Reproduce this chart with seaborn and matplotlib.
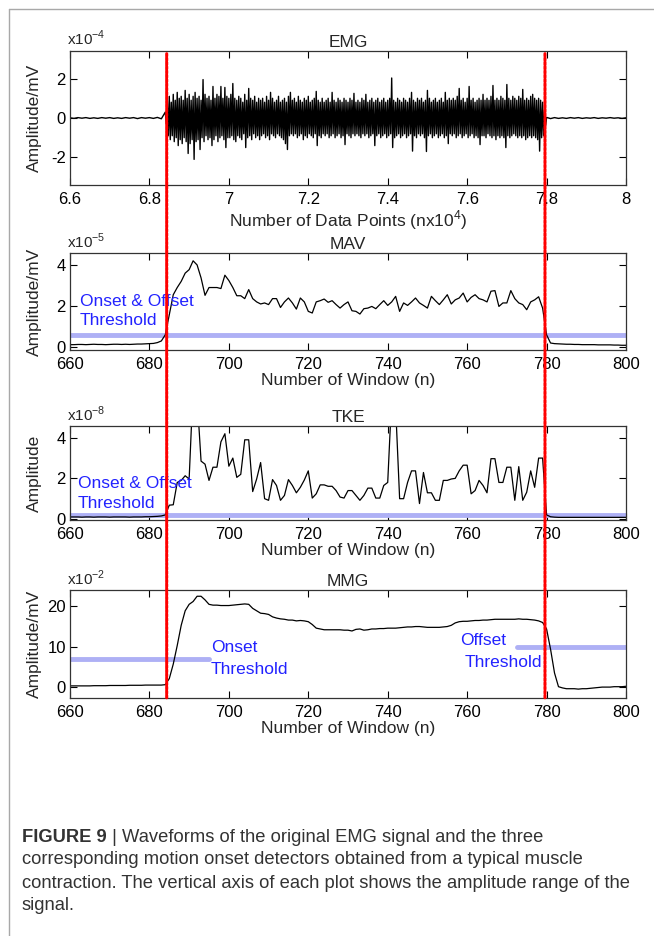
import numpy as np
import pandas as pd
import matplotlib
matplotlib.use("Agg")
import matplotlib.pyplot as plt
import seaborn as sns
from matplotlib.patches import ConnectionPatch
from matplotlib.lines import Line2D

sns.set_style("ticks")
plt.rcParams['font.family'] = ['Liberation Sans', 'DejaVu Sans']
plt.rcParams['mathtext.fontset'] = 'custom'
plt.rcParams['mathtext.rm'] = 'Liberation Sans'

# ---- data ----
windows = list(range(660, 801))

# MAV, x1e-5 mV
mav = [0.12, 0.12, 0.13, 0.13, 0.12, 0.13, 0.14, 0.13, 0.13, 0.12, 0.13, 0.14,
       0.14, 0.13, 0.14, 0.13, 0.14, 0.15, 0.15, 0.16, 0.17, 0.18, 0.22, 0.30,
       0.6, 1.58, 2.55, 2.9, 3.2, 3.6, 3.77, 4.2, 4.0, 3.37, 2.52, 2.9, 2.9, 2.9, 2.85, 3.5,
       3.24, 2.9, 2.5, 2.5, 2.36, 2.8, 2.36, 2.2, 2.1, 2.15, 2.07, 2.36, 2.36, 1.93, 2.2, 2.39, 2.15, 1.85, 2.39, 2.2,
       1.74, 1.66, 2.2, 2.26, 2.34, 2.18, 2.26, 2.07, 1.9, 2.07, 2.2, 1.77, 1.74, 1.61, 1.87, 1.9, 1.98, 1.87, 2.07, 2.26,
       2.03, 2.2, 2.47, 1.74, 2.15, 2.03, 2.2, 2.39, 2.15, 2.03, 1.9, 2.47, 2.26, 2.07, 2.3, 2.55, 2.1, 2.3, 2.39, 2.63,
       2.2, 2.42, 2.55, 2.36, 2.3, 2.2, 2.72, 2.75, 1.98, 2.15, 2.15, 2.75, 2.36, 2.15, 2.07, 1.82, 2.2, 2.3, 2.45, 1.9,
       0.6, 0.2, 0.17, 0.16, 0.15, 0.14, 0.14, 0.13, 0.13, 0.12, 0.12, 0.12, 0.12, 0.11, 0.11, 0.11, 0.11, 0.1, 0.1, 0.09, 0.09]

# TKE, x1e-8
tke = [0.1, 0.1, 0.1, 0.09, 0.1, 0.1, 0.09, 0.1, 0.1, 0.1, 0.09, 0.1,
       0.1, 0.1, 0.1, 0.09, 0.1, 0.1, 0.1, 0.11, 0.11, 0.12, 0.13, 0.15,
       0.2, 0.68, 0.7, 1.8, 1.9, 2.13, 1.97, 6.5, 6.0, 2.85, 2.7, 1.9, 2.55, 2.55, 3.8, 4.2,
       2.6, 3.0, 2.05, 2.2, 3.9, 3.9, 1.35, 1.97, 2.78, 1.0, 0.92, 1.94, 1.65, 0.92, 1.16, 1.94, 1.65, 1.29, 1.56, 1.92,
       2.37, 1.03, 1.24, 1.68, 1.68, 1.61, 1.61, 1.4, 1.08, 1.03, 1.4, 1.4, 1.16, 0.92, 1.16, 1.52, 1.52, 1.03, 1.03, 1.65,
       1.8, 6.0, 5.5, 1.0, 1.0, 1.8, 2.37, 2.37, 0.76, 2.29, 1.29, 1.29, 0.92, 0.92, 1.9, 1.9, 1.97, 2.0, 2.37, 2.65,
       2.65, 1.24, 1.4, 1.9, 1.65, 1.29, 2.97, 2.97, 1.8, 1.8, 2.55, 2.55, 0.92, 2.58, 0.92, 1.32, 2.37, 1.56, 3.0, 3.0,
       0.2, 0.11, 0.09, 0.08, 0.08, 0.08, 0.08, 0.08, 0.08, 0.08, 0.08, 0.08, 0.08, 0.08, 0.08, 0.08, 0.08, 0.08, 0.08, 0.08, 0.08]

# MMG, x1e-2 mV
mmg = [0.3, 0.3, 0.3, 0.3, 0.3, 0.3, 0.35, 0.35, 0.35, 0.35, 0.4, 0.4, 0.4,
       0.4, 0.4, 0.45, 0.45, 0.45, 0.45, 0.5, 0.5, 0.5, 0.5, 0.5, 0.6,
       2.1, 5.7, 10.3, 15.3, 18.9, 20.5, 21.2, 22.5, 22.5, 21.6, 20.5, 20.3, 20.3, 20.2, 20.2,
       20.2, 20.3, 20.4, 20.5, 20.6, 20.5, 19.5, 18.9, 18.3, 18.2, 18.0, 17.4, 17.1, 16.9, 16.8, 16.6, 16.6, 16.4, 16.5, 16.4,
       16.2, 15.5, 14.6, 14.4, 14.2, 14.2, 14.2, 14.2, 14.2, 14.1, 14.1, 13.9, 14.3, 14.4, 14.1, 14.2, 14.4, 14.4, 14.5, 14.5,
       14.6, 14.6, 14.6, 14.7, 14.8, 14.9, 14.9, 15.0, 15.0, 14.9, 14.8, 14.8, 14.8, 14.8, 14.9, 15.0, 15.3, 15.9, 16.2, 16.3,
       16.3, 16.4, 16.5, 16.5, 16.6, 16.6, 16.7, 16.8, 16.8, 16.8, 16.8, 16.8, 16.8, 16.9, 16.8, 16.8, 16.7, 16.6, 16.4, 16.0,
       14.4, 9.4, 3.5, 0.1, -0.2, -0.4, -0.4, -0.4, -0.5, -0.4, -0.4, -0.3, -0.2, -0.1, 0.0, 0.0, 0.0, 0.1, 0.1, 0.1, 0.2]

# raw EMG, x1e-4 mV: quiet stretches and upper/lower excursions per half window (684..779.5)
emg_quiet_pre = [0.01, -0.02, 0.02, -0.01, 0.02, -0.02, 0.01, -0.02, 0.02, -0.01, 0.02, -0.02,
                 0.01, -0.02, 0.02, -0.01, 0.02, -0.03, 0.02, -0.01, 0.02, -0.02, 0.03, -0.04]
emg_upper = [0.3, 0.9, 1.1, 0.8, 1.2, 0.9, 1.3, 1.0, 1.1, 0.9, 1.4, 1.0, 1.2, 0.9, 1.1, 1.3,
             1.0, 1.1, 0.9, 1.95, 1.2, 1.0, 1.1, 0.9, 1.6, 1.0, 1.2, 1.1, 1.6, 1.0, 1.55, 1.1,
             1.0, 1.2, 1.75, 1.0, 0.9, 1.1, 1.0, 0.8, 1.2, 0.9, 1.5, 1.0, 0.9, 1.1, 0.8, 1.0,
             0.9, 1.0, 0.8, 1.1, 0.9, 1.3, 1.0, 0.8, 0.9, 1.1, 0.8, 0.9, 1.0, 0.8, 1.1, 1.3,
             0.9, 1.0, 0.8, 1.1, 0.9, 0.8, 1.0, 0.9, 1.1, 0.8, 0.9, 1.0, 1.35, 0.9, 0.8, 1.0,
             0.8, 0.9, 1.0, 0.8, 1.3, 0.9, 0.8, 1.0, 0.9, 0.8, 1.0, 0.9, 0.8, 1.0, 0.9, 1.25,
             0.8, 0.9, 0.8, 1.0, 0.9, 1.2, 0.8, 0.9, 1.0, 0.8, 0.9, 1.0, 0.8, 0.9, 1.0, 0.8,
             0.9, 1.0, 2.03, 0.9, 0.8, 1.0, 0.9, 0.8, 1.0, 0.9, 0.8, 1.0, 1.3, 0.9, 0.8, 1.0,
             0.9, 1.0, 0.8, 0.9, 1.4, 1.0, 0.8, 0.9, 1.0, 0.8, 0.9, 1.0, 0.8, 1.3, 0.9, 1.0,
             0.9, 1.0, 0.9, 1.1, 1.5, 0.9, 1.0, 0.8, 1.0, 1.6, 0.9, 1.0, 0.8, 0.9, 1.0, 0.9,
             1.2, 0.9, 1.0, 0.9, 1.1, 1.65, 0.9, 1.0, 0.9, 1.1, 1.0, 0.9, 1.7, 1.0, 0.9, 1.1,
             1.0, 0.9, 1.1, 1.0, 1.45, 0.9, 1.0, 0.9, 1.1, 1.2, 1.0, 0.9, 1.0, 0.9, 0.8, 0.4]
emg_lower = [-0.3, -0.9, -1.1, -0.9, -1.2, -1.0, -1.4, -1.1, -1.3, -1.0, -1.2, -1.8, -1.3, -1.1, -2.1, -1.2,
             -1.1, -1.6, -1.0, -1.2, -0.9, -1.1, -1.0, -1.4, -1.1, -0.9, -1.2, -1.0, -0.9, -1.1, -1.5, -1.0,
             -1.0, -0.9, -1.1, -1.2, -0.9, -1.0, -1.1, -0.8, -1.5, -1.0, -0.9, -1.1, -0.8, -1.0, -0.9, -1.1,
             -0.9, -0.8, -1.0, -0.9, -1.1, -0.8, -0.9, -1.0, -0.8, -0.9, -1.0, -1.1, -1.3, -1.6, -0.9, -0.8,
             -0.9, -0.8, -1.0, -0.9, -0.8, -1.1, -0.9, -1.0, -0.8, -0.9, -1.0, -0.8, -1.4, -0.9, -1.0, -0.8,
             -0.9, -0.8, -1.0, -0.9, -0.8, -1.0, -0.9, -0.8, -1.0, -0.9, -1.35, -0.8, -0.9, -1.0, -0.8, -0.9,
             -0.8, -0.9, -1.0, -0.8, -0.9, -0.8, -1.0, -0.9, -0.8, -1.4, -0.9, -0.8, -1.0, -0.9, -0.8, -1.0,
             -0.9, -0.8, -1.5, -1.0, -0.9, -0.8, -1.0, -0.9, -0.8, -1.0, -0.9, -0.8, -1.68, -0.9, -1.0, -0.8,
             -0.9, -0.8, -1.0, -1.7, -0.9, -0.8, -1.0, -0.9, -0.8, -1.0, -0.9, -0.8, -1.0, -0.9, -1.3, -0.8,
             -0.9, -0.8, -1.0, -0.9, -0.8, -1.0, -0.9, -0.8, -1.0, -0.9, -0.8, -1.0, -0.9, -1.0, -1.35, -0.9,
             -0.9, -1.0, -0.8, -0.9, -1.0, -0.9, -1.1, -0.9, -1.0, -0.9, -1.0, -1.5, -0.9, -1.0, -0.9, -0.8,
             -0.9, -1.0, -0.9, -1.0, -0.9, -1.1, -1.0, -0.9, -1.0, -0.9, -1.0, -1.1, -1.68, -1.0, -0.9, -0.4]
emg_quiet_post = [0.03, -0.03, 0.02, -0.02, 0.01, -0.02, 0.02, -0.01, 0.02, -0.02, 0.01,
                  -0.01, 0.02, -0.02, 0.01, -0.01, 0.02, -0.01, 0.01, -0.02, 0.01]

detector_lines = [684.35, 779.6]          # window index of onset / offset
mav_threshold = 0.6
tke_threshold = 0.2
mmg_onset_threshold = (660, 695, 6.9)
mmg_offset_threshold = (772.5, 800, 10.0)

# ---- build EMG trace ----
active = np.empty(len(emg_upper) * 2)
active[0::2] = emg_upper
active[1::2] = emg_lower
emg_df = pd.DataFrame({
    'x': np.concatenate([6.60 + 0.01 * np.arange(len(emg_quiet_pre)),
                         6.84 + 0.0025 * np.arange(len(active)),
                         7.80 + 0.01 * np.arange(len(emg_quiet_post))]),
    'y': np.concatenate([emg_quiet_pre, active, emg_quiet_post]),
})
win_df = pd.DataFrame({'n': windows, 'mav': mav, 'tke': tke, 'mmg': mmg})

# ---- figure ----
W, H = 654, 936
fig = plt.figure(figsize=(W / 100, H / 100), dpi=100)

def box(top, bottom):
    return [70 / W, 1 - bottom / H, 556 / W, (bottom - top) / H]

ax_emg = fig.add_axes(box(51, 185))
ax_mav = fig.add_axes(box(253, 350))
ax_tke = fig.add_axes(box(426, 520))
ax_mmg = fig.add_axes(box(590, 698))

FS = 12.5
blue = '#2222ff'
thr_col = '#aeb0f5'

sns.lineplot(data=emg_df, x='x', y='y', ax=ax_emg, color='black', lw=1.0,
             estimator=None, sort=False)
sns.lineplot(data=win_df, x='n', y='mav', ax=ax_mav, color='black', lw=0.9, estimator=None)
sns.lineplot(data=win_df, x='n', y='tke', ax=ax_tke, color='black', lw=0.9, estimator=None)
sns.lineplot(data=win_df, x='n', y='mmg', ax=ax_mmg, color='black', lw=0.9, estimator=None)

ax_mav.plot([660, 800], [mav_threshold] * 2, color=thr_col, lw=3.5, zorder=1)
ax_tke.plot([660, 800], [tke_threshold] * 2, color=thr_col, lw=3.5, zorder=1)
ax_mmg.plot(mmg_onset_threshold[:2], [mmg_onset_threshold[2]] * 2, color=thr_col, lw=3.5, zorder=1)
ax_mmg.plot(mmg_offset_threshold[:2], [mmg_offset_threshold[2]] * 2, color=thr_col, lw=3.5, zorder=1)

ax_mav.text(662.5, 2.2, 'Onset & Offset', color=blue, fontsize=FS, va='center')
ax_mav.text(662.5, 1.3, 'Threshold', color=blue, fontsize=FS, va='center')
ax_tke.text(662, 1.73, 'Onset & Offset', color=blue, fontsize=FS, va='center')
ax_tke.text(662, 0.77, 'Threshold', color=blue, fontsize=FS, va='center')
ax_mmg.text(695.5, 9.7, 'Onset', color=blue, fontsize=FS, va='center')
ax_mmg.text(695.5, 4.3, 'Threshold', color=blue, fontsize=FS, va='center')
ax_mmg.text(758.3, 11.6, 'Offset', color=blue, fontsize=FS, va='center')
ax_mmg.text(759.4, 6.2, 'Threshold', color=blue, fontsize=FS, va='center')

panels = [
    (ax_emg, 'EMG', 'Amplitude/mV', 'Number of Data Points (nx10$^{4}$)', '-4',
     (6.6, 8.0), (-3.4, 3.4), [-2, 0, 2]),
    (ax_mav, 'MAV', 'Amplitude/mV', 'Number of Window (n)', '-5',
     (660, 800), (-0.14, 4.58), [0, 2, 4]),
    (ax_tke, 'TKE', 'Amplitude', 'Number of Window (n)', '-8',
     (660, 800), (-0.05, 4.58), [0, 2, 4]),
    (ax_mmg, 'MMG', 'Amplitude/mV', 'Number of Window (n)', '-2',
     (660, 800), (-2.7, 24.05), [0, 10, 20]),
]
for ax, title, ylab, xlab, expo, xl, yl, yt in panels:
    ax.set_xlim(*xl)
    ax.set_ylim(*yl)
    ax.set_yticks(yt)
    ax.set_yticklabels([str(v) for v in yt])
    ax.set_title(title, fontsize=FS, pad=3)
    ax.set_ylabel(ylab, fontsize=FS)
    ax.set_xlabel(xlab, fontsize=FS, labelpad=1)
    ax.yaxis.set_label_coords(-0.05, 0.5)
    ax.tick_params(direction='in', length=5, width=0.8, labelsize=FS - 0.5,
                   top=True, right=True, pad=3, colors='black')
    ax.tick_params(axis='x', pad=5)
    for s in ax.spines.values():
        s.set_linewidth(0.9)
        s.set_color('#333333')
    ax.text(-0.005, 1.02, 'x10$^{' + expo + '}$', transform=ax.transAxes,
            fontsize=FS - 1.5, ha='left', va='bottom')

ax_emg.set_xticks([6.6, 6.8, 7.0, 7.2, 7.4, 7.6, 7.8, 8.0])
ax_emg.set_xticklabels(['6.6', '6.8', '7', '7.2', '7.4', '7.6', '7.8', '8'])
for ax in (ax_mav, ax_tke, ax_mmg):
    ax.set_xticks(list(range(660, 801, 20)))

# red dotted detection lines across all panels
for xw in detector_lines:
    con = ConnectionPatch(xyA=(xw / 100.0, 0.98), coordsA=ax_emg.get_xaxis_transform(),
                          xyB=(xw, 0.0), coordsB=ax_mmg.get_xaxis_transform(),
                          color='red', lw=2.2, linestyle=(0, (0.8, 0.6)), zorder=10)
    fig.add_artist(con)

# outer frame
fig.add_artist(Line2D([9 / W, 9 / W], [0, 1 - 9 / H], color='#a8a8a8', lw=1))
fig.add_artist(Line2D([9 / W, 1], [1 - 9 / H, 1 - 9 / H], color='#a8a8a8', lw=1))

# caption
cap_x = 22 / W
cap_fs = 13.2
cap_col = '#333333'
cap_y0 = 837
cap_step = 23
t = fig.text(cap_x, 1 - cap_y0 / H, 'FIGURE 9', fontsize=cap_fs, fontweight='bold',
             color=cap_col, va='center')
fig.canvas.draw()
bb = t.get_window_extent(renderer=fig.canvas.get_renderer())
fig.text(bb.x1 / W, 1 - cap_y0 / H, ' | Waveforms of the original EMG signal and the three',
         fontsize=cap_fs, color=cap_col, va='center')
caption_rest = ['corresponding motion onset detectors obtained from a typical muscle',
                'contraction. The vertical axis of each plot shows the amplitude range of the',
                'signal.']
for i, line in enumerate(caption_rest):
    fig.text(cap_x, 1 - (cap_y0 + cap_step * (i + 1)) / H, line, fontsize=cap_fs,
             color=cap_col, va='center')

fig.savefig('out.png', dpi=100)
